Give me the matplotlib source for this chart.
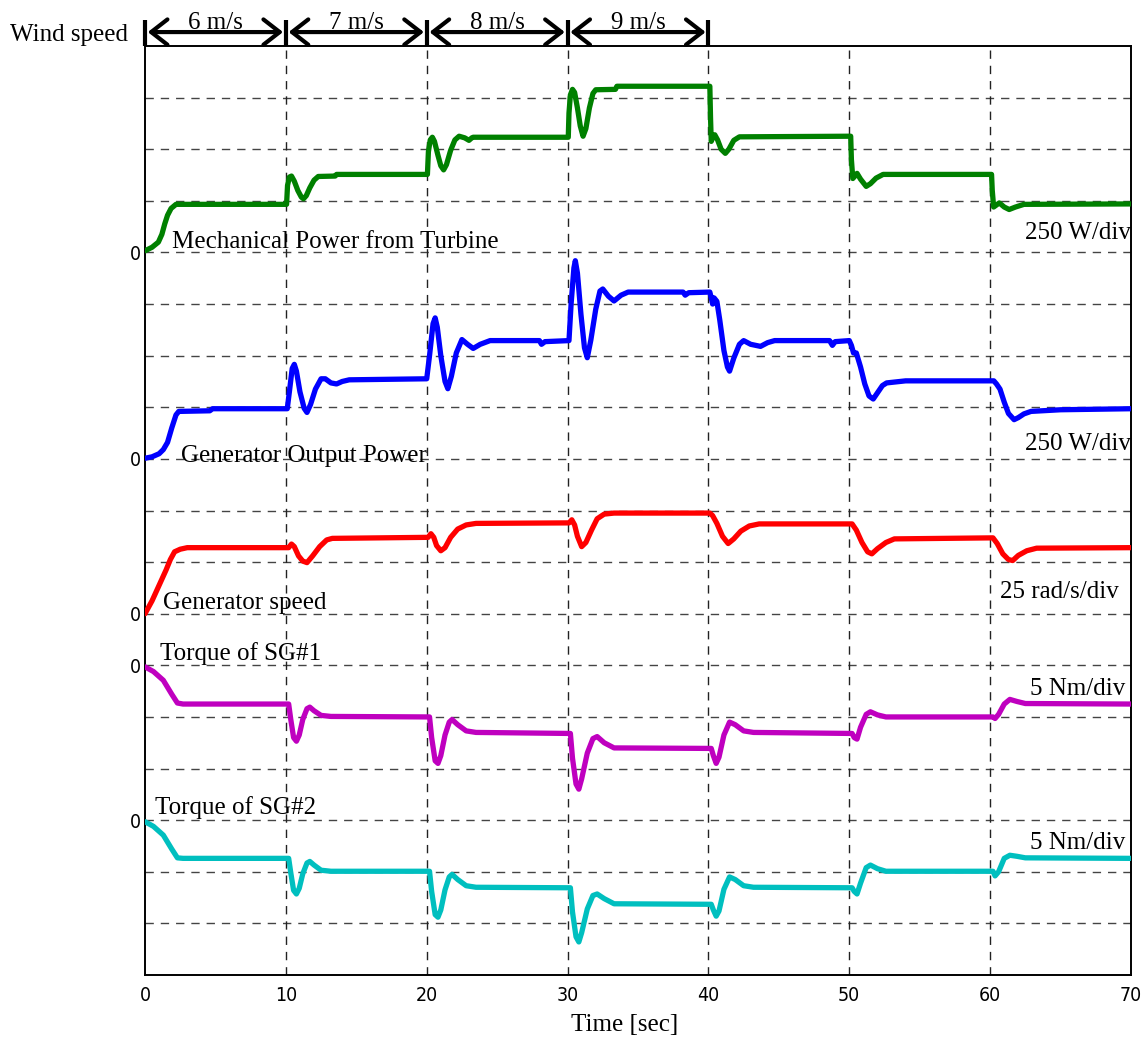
import matplotlib
matplotlib.use("Agg")
import matplotlib.pyplot as plt
import numpy as np

# ---- measured signals ----
# Mechanical power from turbine [W]
t_mech = [0, 0.5, 0.95, 1.2, 1.4, 1.6, 1.85, 2.2, 10.05,
          10.12, 10.25, 10.4, 10.6, 10.85, 11.1, 11.25, 11.45, 11.7, 12.0, 12.3, 13.5, 13.6, 20.05,
          20.12, 20.25, 20.4, 20.55, 20.8, 21.0, 21.2, 21.4, 21.7, 22.0, 22.3, 22.7, 23.0, 23.2, 23.3, 30.05,
          30.1, 30.2, 30.35, 30.5, 30.7, 30.9, 31.1, 31.3, 31.55, 31.8, 32.0, 33.4, 33.5, 40.1,
          40.15, 40.2, 40.3, 40.45, 40.65, 40.9, 41.2, 41.45, 41.8, 42.2, 50.1,
          50.15, 50.25, 50.4, 50.55, 50.8, 51.2, 51.5, 51.9, 52.4, 60.1,
          60.15, 60.25, 60.45, 60.65, 61.0, 61.35, 61.8, 62.4, 70]
p_mech = [8, 25, 50, 88, 138, 180, 213, 233, 233,
          325, 365, 370, 345, 300, 268, 260, 275, 313, 350, 368, 370, 378, 378,
          488, 545, 558, 538, 470, 420, 400, 425, 495, 545, 563, 555, 543, 555, 558, 558,
          675, 763, 790, 775, 700, 613, 563, 600, 700, 770, 788, 790, 805, 805,
          650, 538, 555, 570, 545, 500, 480, 500, 543, 560, 563,
          450, 358, 370, 383, 355, 320, 333, 360, 378, 378,
          300, 220, 230, 240, 220, 208, 220, 233, 235]

# Generator output power [W]
t_gen = [0, 0.5, 1.0, 1.3, 1.6, 1.9, 2.2, 2.4, 4.6, 4.8, 10.1,
         10.25, 10.45, 10.6, 10.75, 11.0, 11.3, 11.5, 11.75, 12.1, 12.5, 12.8, 13.2, 13.6, 14.0, 14.5, 20.0,
         20.2, 20.45, 20.6, 20.75, 21.0, 21.3, 21.5, 21.75, 22.1, 22.5, 22.9, 23.3, 23.8, 24.5, 28.0, 28.15, 28.4, 30.1,
         30.25, 30.45, 30.55, 30.7, 30.95, 31.2, 31.4, 31.65, 32.0, 32.3, 32.5, 32.9, 33.3, 33.8, 34.3, 38.2, 38.35, 38.6, 40.1,
         40.2, 40.3, 40.4, 40.6, 40.8, 41.1, 41.35, 41.5, 41.8, 42.2, 42.5, 43.0, 43.7, 44.2, 44.7, 48.6, 48.8, 49.0, 50.0,
         50.15, 50.3, 50.5, 50.8, 51.1, 51.4, 51.7, 52.0, 52.35, 52.65, 54.0, 60.26,
         60.45, 60.7, 61.0, 61.3, 61.7, 62.0, 62.4, 62.9, 65.0, 70]
p_gen = [3, 10, 25, 45, 80, 150, 213, 230, 233, 243, 243,
         325, 438, 458, 425, 325, 245, 225, 263, 338, 388, 388, 368, 363, 375, 383, 388,
         500, 655, 683, 638, 500, 375, 340, 400, 513, 578, 555, 535, 555, 573, 573, 555, 568, 573,
         750, 925, 960, 900, 700, 538, 490, 575, 725, 813, 823, 788, 765, 793, 808, 808, 793, 805, 808,
         780, 750, 780, 763, 675, 525, 445, 425, 488, 555, 573, 555, 545, 563, 573, 573, 550, 568, 573,
         550, 513, 513, 445, 363, 305, 290, 320, 355, 368, 378, 378,
         363, 338, 275, 220, 190, 200, 218, 230, 238, 243]

# Generator speed [rad/s]
t_speed = [0, 0.5, 1.0, 1.5, 1.8, 2.1, 2.5, 3.0, 10.2,
           10.4, 10.6, 10.9, 11.2, 11.5, 11.9, 12.4, 12.9, 13.3, 20.1,
           20.3, 20.5, 20.7, 21.0, 21.3, 21.7, 22.2, 22.8, 23.5, 30.1,
           30.3, 30.5, 30.7, 31.0, 31.3, 31.7, 32.1, 32.6, 33.3, 40.1,
           40.3, 40.6, 41.0, 41.4, 41.8, 42.3, 42.9, 43.6, 50.2,
           50.5, 50.9, 51.3, 51.6, 52.0, 52.6, 53.2, 60.2,
           60.5, 60.9, 61.3, 61.6, 62.0, 62.6, 63.3, 70]
w_gen = [0, 6.25, 13.75, 21.25, 26.25, 30, 31.25, 32, 32,
         33.75, 32.5, 28, 25.5, 24.75, 28, 32.5, 35.75, 36.5, 37,
         38.75, 37, 33, 30.5, 32, 37, 41, 43, 43.75, 44,
         45.5, 43, 37.5, 32.5, 34.5, 40.5, 46, 48.25, 48.75, 48.75,
         47.5, 43.75, 37.5, 34, 36.25, 40, 42.5, 43.5, 43.5,
         40.5, 34.5, 30, 29, 31.5, 34.5, 36.25, 36.75,
         34, 29, 26.25, 25.75, 28.25, 30.5, 31.75, 32]

# Torque of SG#1 and SG#2 [Nm]
t_torque = [0, 0.6, 1.3, 1.9, 2.3, 2.7, 10.2,
            10.35, 10.55, 10.75, 10.95, 11.2, 11.5, 11.7, 12.0, 12.5, 13.2, 20.2,
            20.35, 20.6, 20.8, 21.0, 21.3, 21.6, 21.8, 22.2, 22.8, 23.5, 30.2,
            30.35, 30.6, 30.8, 31.0, 31.4, 31.8, 32.1, 32.6, 33.3, 40.2,
            40.35, 40.55, 40.75, 41.1, 41.5, 41.9, 42.5, 43.2, 50.2,
            50.35, 50.55, 50.8, 51.2, 51.5, 52.0, 52.6, 60.2,
            60.35, 60.6, 61.0, 61.4, 61.9, 62.5, 70]
tq_sg1 = [-0.15, -0.6, -1.45, -2.8, -3.65, -3.75, -3.75,
          -5.25, -7.0, -7.35, -6.75, -5.25, -4.2, -4.05, -4.4, -4.85, -4.95, -5.0,
          -7.0, -9.25, -9.5, -8.75, -6.75, -5.5, -5.25, -5.75, -6.35, -6.5, -6.6,
          -9.0, -11.5, -12.0, -11.0, -8.5, -7.1, -6.9, -7.5, -8.0, -8.05,
          -8.75, -9.5, -8.9, -6.75, -5.5, -5.75, -6.35, -6.5, -6.6,
          -7.0, -7.15, -6.0, -4.75, -4.5, -4.8, -5.0, -5.0,
          -5.15, -4.75, -3.75, -3.3, -3.5, -3.7, -3.75]
tq_sg2 = [-0.15, -0.6, -1.45, -2.8, -3.65, -3.7, -3.7,
          -5.1, -6.8, -7.15, -6.6, -5.2, -4.15, -4.0, -4.35, -4.85, -4.95, -4.95,
          -6.9, -9.15, -9.4, -8.7, -6.75, -5.5, -5.25, -5.75, -6.35, -6.5, -6.55,
          -8.9, -11.3, -11.8, -10.9, -8.6, -7.3, -7.15, -7.6, -8.1, -8.15,
          -8.7, -9.3, -8.8, -6.7, -5.5, -5.75, -6.35, -6.5, -6.55,
          -6.9, -7.15, -6.1, -4.6, -4.35, -4.7, -4.95, -4.95,
          -5.4, -5.0, -3.7, -3.4, -3.5, -3.65, -3.7]

# wind speed steps
wind_edges = [0, 10, 20, 30, 40]
wind_labels = ["6 m/s", "7 m/s", "8 m/s", "9 m/s"]

# trace layout on the 18-division screen: (zero division, units per division)
traces = [
    (t_mech, p_mech, 14, 250, "#008000"),
    (t_gen, p_gen, 10, 250, "#0000ff"),
    (t_speed, w_gen, 7, 25, "#ff0000"),
    (t_torque, tq_sg1, 6, 5, "#bf00bf"),
    (t_torque, tq_sg2, 3, 5, "#00bfbf"),
]

serif = ["Liberation Serif", "DejaVu Serif"]
narrow = ["DejaVu Sans", "Liberation Sans"]
FS = 18

W, H = 1141, 1040
fig = plt.figure(figsize=(W / 100, H / 100), dpi=100)
ax = fig.add_axes([145 / W, 1 - 975 / H, (1131 - 145) / W, (975 - 46) / H])
ax.set_xlim(0, 70)
ax.set_ylim(0, 18)

# dashed screen grid
for k in range(1, 18):
    ax.axhline(k, color="#444444", lw=1.0, ls=(0, (6, 5)), zorder=1)
for x in range(10, 70, 10):
    ax.axvline(x, color="#222222", lw=1.0, ls=(0, (6, 5)), zorder=1)

for t, v, zero, scale, col in traces:
    ax.plot(t, zero + np.asarray(v, float) / scale, color=col, lw=3.8,
            solid_joinstyle="round", solid_capstyle="round", zorder=3)

# ticks
ax.set_xticks(range(0, 71, 10))
ax.set_xticklabels([str(v) for v in range(0, 71, 10)], fontfamily=narrow,
                   fontstretch="condensed", fontsize=14)
zeros = [14, 10, 7, 6, 3]
ax.set_yticks(zeros)
ax.set_yticklabels(["0"] * len(zeros), fontfamily=narrow,
                   fontstretch="condensed", fontsize=14)
ax.tick_params(axis="x", length=0, pad=8)
ax.tick_params(axis="y", length=0, pad=3)
for s in ax.spines.values():
    s.set_linewidth(1.4)
    s.set_color("black")

# trace names and scales
names = [
    (1.9, 14.2, "Mechanical Power from Turbine"),
    (2.55, 10.06, "Generator Output Power"),
    (1.28, 7.2, "Generator speed"),
    (1.06, 6.22, "Torque of SG#1"),
    (0.7, 3.24, "Torque of SG#2"),
]
for x, y, s in names:
    ax.text(x, y, s, fontfamily=serif, fontsize=FS, va="center", ha="left", zorder=4)

scales = [
    (62.45, 14.38, "250 W/div"),
    (62.45, 10.29, "250 W/div"),
    (60.7, 7.43, "25 rad/s/div"),
    (62.8, 5.54, "5 Nm/div"),
    (62.8, 2.56, "5 Nm/div"),
]
for x, y, s in scales:
    ax.text(x, y, s, fontfamily=serif, fontsize=FS, va="center", ha="left",
            clip_on=True, zorder=4)

# wind speed intervals above the screen
for a in wind_edges:
    ax.plot([a, a], [18.0, 18.5], color="black", lw=3, clip_on=False, zorder=5,
            solid_capstyle="butt")
for a, b, lab in zip(wind_edges[:-1], wind_edges[1:], wind_labels):
    ax.annotate("", xy=(a, 18.27), xytext=(b, 18.27),
                arrowprops=dict(arrowstyle="<->,head_length=0.45,head_width=0.35",
                                lw=3, mutation_scale=26,
                                shrinkA=2, shrinkB=2, color="black"),
                annotation_clip=False)
    ax.text((a + b) / 2, 18.45, lab, fontfamily=serif, fontsize=FS,
            ha="center", va="center", clip_on=False)

fig.text(10 / W, 1 - 35 / H, "Wind speed", fontfamily=serif, fontsize=FS,
         ha="left", va="center")
fig.text(625 / W, 1 - 1025 / H, "Time [sec]", fontfamily=serif, fontsize=FS,
         ha="center", va="center")

fig.savefig("out.png", dpi=100)
